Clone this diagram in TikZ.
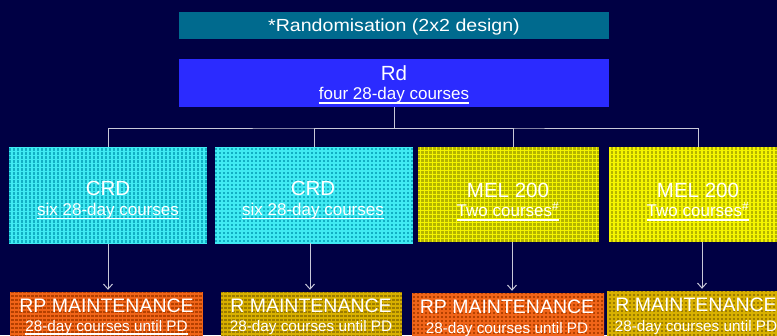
\documentclass[tikz,border=0pt]{standalone}
\usepackage{fontspec}
\setmainfont{Liberation Sans}
\usetikzlibrary{arrows.meta}
\definecolor{bg}{HTML}{000044}
\definecolor{titlec}{HTML}{006A8E}
\definecolor{rdc}{HTML}{2B2BFF}
\definecolor{cyanb}{HTML}{12AFC4}
\definecolor{cyanl}{HTML}{40EAF2}
\definecolor{yelb}{HTML}{B4B400}
\definecolor{yell}{HTML}{F4F400}
\definecolor{orab}{HTML}{B44000}
\definecolor{oral}{HTML}{F06418}
\definecolor{goldb}{HTML}{9C7C00}
\definecolor{goldl}{HTML}{D8B000}
\definecolor{linec}{HTML}{C8C8D8}
\tikzset{
  box/.style={rectangle, draw=none, inner sep=0pt},
  tex/.style={path picture={\draw[step=4pt, line width=1.3pt, #1] (path picture bounding box.south west) grid (path picture bounding box.north east);}},
  lbl/.style={inner sep=0pt, text=white, anchor=base},
  big/.style={lbl, font=\fontsize{20.5}{22}\selectfont},
  sub/.style={lbl, font=\fontsize{17}{19}\selectfont},
  mbig/.style={lbl, font=\fontsize{19.5}{21}\selectfont},
  msub/.style={lbl, font=\fontsize{15.3}{17}\selectfont},
  uline/.style={white, line width=1.4pt},
  tree/.style={linec, line width=1pt},
  arr/.style={linec, line width=1pt, -{Straight Barb[length=5pt,width=9pt]}, shorten >=2pt}
}
\begin{document}
\begin{tikzpicture}[x=1pt,y=-1pt]
\useasboundingbox (0,0) rectangle (777,335);
\clip (0,0) rectangle (777,335);
\fill[bg] (0,0) rectangle (777,335);

% header boxes
\node[box, fill=titlec, minimum width=430pt, minimum height=27pt] (title) at (394,25.5) {};
\node[lbl, font=\fontsize{17.5}{19}\selectfont] (titlet) at (394,31.5) {\scalebox{1.12}[1]{*Randomisation (2x2 design)}};

\node[box, fill=rdc, minimum width=430pt, minimum height=48pt] (rd) at (394,83) {};
\node[big] (rdt) at (394,80) {Rd};
\node[sub] (rds) at (394,99.5) {four 28-day courses};
\draw[uline] ([yshift=-3.5pt]rds.base west) -- ([yshift=-3.5pt]rds.base east);

% second row
\node[box, fill=cyanb, tex=cyanl, minimum width=198pt, minimum height=97pt] (b1) at (108,195.5) {};
\node[box, fill=cyanb, tex=cyanl, minimum width=198pt, minimum height=96pt] (b2) at (314,195) {};
\node[box, fill=yelb, tex=yell, minimum width=181pt, minimum height=95pt] (b3) at (508.5,194.5) {};
\node[box, fill=yelb, tex=yell, minimum width=178pt, minimum height=95pt] (b4) at (698,194.5) {};

\node[big] (t1) at (108,195) {CRD};
\node[sub] (s1) at (108,215) {six 28-day courses};
\draw[uline] ([yshift=-3.5pt]s1.base west) -- ([yshift=-3.5pt]s1.base east);
\node[big] (t2) at (313,195) {CRD};
\node[sub] (s2) at (313,215) {six 28-day courses};
\draw[uline] ([yshift=-3.5pt]s2.base west) -- ([yshift=-3.5pt]s2.base east);
\node[big] (t3) at (508,197) {MEL 200};
\node[sub] (s3) at (508,216.5) {Two courses\textsuperscript{\#}};
\draw[uline] ([yshift=-3.5pt]s3.base west) -- ([yshift=-3.5pt]s3.base east);
\node[big] (t4) at (698,197) {MEL 200};
\node[sub] (s4) at (698,216.5) {Two courses\textsuperscript{\#}};
\draw[uline] ([yshift=-3.5pt]s4.base west) -- ([yshift=-3.5pt]s4.base east);

% third row
\node[box, fill=orab, tex=oral, minimum width=193pt, minimum height=60pt] (b5) at (106.5,322) {};
\node[box, fill=goldb, tex=goldl, minimum width=181pt, minimum height=60pt] (b6) at (311.5,322) {};
\node[box, fill=orab, tex=oral, minimum width=192pt, minimum height=60pt] (b7) at (508,323) {};
\node[box, fill=goldb, tex=goldl, minimum width=178pt, minimum height=60pt] (b8) at (696,321) {};

\node[mbig] (m5) at (106.5,312.3) {RP MAINTENANCE};
\node[msub] (n5) at (106.5,331) {28-day courses until PD};
\draw[uline] ([yshift=-3pt]n5.base west) -- ([yshift=-3pt]n5.base east);
\node[mbig] (m6) at (311,312.3) {R MAINTENANCE};
\node[msub] (n6) at (311,331.5) {28-day courses until PD};
\node[mbig] (m7) at (507,313) {RP MAINTENANCE};
\node[msub] (n7) at (507,333) {28-day courses until PD};
\node[mbig] (m8) at (696,311.5) {R MAINTENANCE};
\node[msub] (n8) at (696,331.5) {28-day courses until PD};

% tree connectors
\coordinate (j) at (394,128);
\draw[tree] (rd.south) -- (j);
\draw[tree] (b1.north) |- (j) -| (b4.north);
\draw[tree] (j) -| (b2.north);
\draw[tree] (j) -| ([xshift=4.5pt]b3.north);

% arrows
\draw[arr] (b1.south) -- (b1.south |- b5.north);
\draw[arr] ([xshift=-4pt]b2.south) -- ([xshift=-4pt]b2.south |- b6.north);
\draw[arr] ([xshift=3.5pt]b3.south) -- ([xshift=3.5pt]b3.south |- b7.north);
\draw[arr] ([xshift=4pt]b4.south) -- ([xshift=4pt]b4.south |- b8.north);
\end{tikzpicture}
\end{document}
